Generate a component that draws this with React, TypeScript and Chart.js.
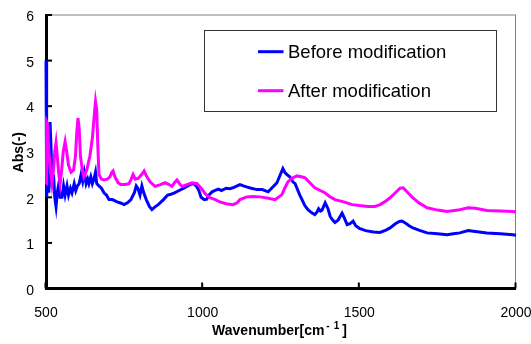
import { useEffect, useRef } from "react";
import { Chart, registerables } from "chart.js";

Chart.register(...registerables);

const beforeX = [500, 501, 503, 506, 509, 513, 517, 520, 524, 528, 532, 536, 541, 545, 551, 556, 561, 567, 572, 578, 583, 590, 595, 600, 606, 612, 617, 622, 628, 633, 637, 643, 648, 653, 658, 662, 669, 677, 685, 693, 701, 712, 727, 740, 749, 760, 771, 782, 788, 793, 800, 806, 812, 820, 830, 838, 846, 860, 875, 888, 896, 910, 925, 940, 952, 960, 970, 980, 988, 995, 1005, 1013, 1020, 1030, 1040, 1050, 1060, 1075, 1087, 1100, 1110, 1119, 1130, 1140, 1155, 1173, 1190, 1209, 1220, 1237, 1248, 1256, 1262, 1269, 1278, 1288, 1295, 1301, 1310, 1317, 1326, 1336, 1348, 1358, 1365, 1370, 1376, 1381, 1391, 1400, 1407, 1415, 1422, 1432, 1445, 1452, 1461, 1470, 1480, 1488, 1500, 1520, 1545, 1566, 1585, 1598, 1615, 1628, 1636, 1648, 1660, 1671, 1690, 1716, 1750, 1780, 1800, 1821, 1847, 1870, 1907, 1950, 1990, 2000];
const beforeY = [5.0, 2.3, 2.0, 2.6, 2.1, 3.65, 2.9, 2.2, 2.5, 2.0, 1.8, 2.1, 2.3, 2.0, 2.0, 2.25, 2.05, 2.25, 2.05, 2.2, 2.1, 2.3, 2.15, 2.25, 2.3, 2.5, 2.35, 2.55, 2.3, 2.4, 2.3, 2.45, 2.3, 2.4, 2.55, 2.3, 2.25, 2.2, 2.1, 2.05, 1.95, 1.95, 1.9, 1.87, 1.84, 1.88, 1.95, 2.1, 2.25, 2.2, 2.05, 2.25, 2.1, 1.95, 1.8, 1.73, 1.78, 1.85, 1.95, 2.05, 2.06, 2.1, 2.15, 2.2, 2.25, 2.28, 2.3, 2.25, 2.15, 2.0, 1.95, 1.96, 2.05, 2.12, 2.15, 2.18, 2.15, 2.2, 2.19, 2.22, 2.25, 2.28, 2.25, 2.23, 2.2, 2.17, 2.17, 2.12, 2.2, 2.32, 2.5, 2.63, 2.55, 2.5, 2.45, 2.34, 2.3, 2.2, 2.05, 1.95, 1.82, 1.73, 1.66, 1.62, 1.68, 1.75, 1.7, 1.72, 1.88, 1.75, 1.58, 1.5, 1.45, 1.5, 1.65, 1.55, 1.4, 1.42, 1.48, 1.38, 1.32, 1.27, 1.24, 1.23, 1.28, 1.33, 1.42, 1.47, 1.48, 1.43, 1.37, 1.33, 1.28, 1.22, 1.2, 1.18, 1.2, 1.22, 1.27, 1.25, 1.22, 1.2, 1.18, 1.17];

const afterX = [500, 502, 505, 509, 514, 519, 524, 528, 532, 536, 541, 545, 550, 555, 561, 566, 572, 580, 588, 594, 598, 602, 606, 610, 616, 621, 630, 640, 648, 654, 658, 662, 665, 669, 677, 685, 695, 704, 710, 714, 720, 730, 739, 752, 765, 772, 778, 785, 795, 805, 813, 822, 832, 848, 865, 880, 893, 902, 910, 918, 926, 934, 950, 966, 982, 995, 1008, 1023, 1040, 1055, 1075, 1097, 1110, 1119, 1141, 1160, 1183, 1210, 1231, 1253, 1262, 1272, 1285, 1301, 1315, 1327, 1342, 1358, 1375, 1390, 1405, 1422, 1450, 1477, 1500, 1528, 1550, 1566, 1585, 1598, 1615, 1630, 1640, 1655, 1671, 1690, 1716, 1750, 1780, 1815, 1847, 1870, 1907, 1950, 1990, 2000];
const afterY = [2.3, 3.65, 3.6, 3.0, 2.6, 2.3, 2.6, 3.0, 3.2, 2.9, 2.5, 2.3, 2.6, 3.0, 3.22, 3.0, 2.7, 2.55, 2.6, 2.9, 3.4, 3.74, 3.5, 2.9, 2.6, 2.45, 2.6, 2.9, 3.3, 3.8, 4.1, 3.9, 3.2, 2.5, 2.4, 2.38, 2.4, 2.45, 2.55, 2.58, 2.45, 2.32, 2.28, 2.28, 2.3, 2.4, 2.5, 2.4, 2.42, 2.5, 2.58, 2.45, 2.34, 2.24, 2.28, 2.32, 2.28, 2.24, 2.32, 2.38, 2.3, 2.24, 2.28, 2.32, 2.3, 2.2, 2.08, 1.99, 1.95, 1.9, 1.86, 1.84, 1.88, 1.95, 2.01, 2.02, 2.01, 1.98, 1.95, 2.06, 2.2, 2.34, 2.42, 2.47, 2.45, 2.43, 2.32, 2.21, 2.15, 2.1, 2.02, 1.95, 1.9, 1.84, 1.82, 1.8, 1.8, 1.84, 1.92, 1.99, 2.1, 2.2, 2.21, 2.1, 1.99, 1.88, 1.77, 1.72, 1.69, 1.72, 1.77, 1.76, 1.71, 1.7, 1.69, 1.68];

const xTicks = [500, 1000, 1500, 2000];
const yTicks = [0, 1, 2, 3, 4, 5, 6];
const seriesNames = ["Before modification", "After modification"];
const seriesColors = ["#0000FF", "#FF00FF"];
const yTitle = "Abs(-)";
const xTitleMain = "Wavenumber[cm";
const xTitleSup = ["-", "1"];
const xTitleEnd = "]";

const FONT = "'Liberation Sans', Arial, sans-serif";

const framePlugin = {
  id: "frame",
  beforeDatasetsDraw(chart: any) {
    const { ctx, chartArea: a, scales } = chart;
    const x = scales.x;
    const y = scales.y;
    ctx.save();
    // top gray border
    ctx.strokeStyle = "#c0c0c0";
    ctx.lineWidth = 2;
    ctx.beginPath();
    ctx.moveTo(a.left, a.top);
    ctx.lineTo(a.right, a.top);
    ctx.stroke();
    // right gray border
    ctx.strokeStyle = "#808080";
    ctx.lineWidth = 1;
    ctx.beginPath();
    ctx.moveTo(a.right - 0.5, a.top);
    ctx.lineTo(a.right - 0.5, a.bottom);
    ctx.stroke();
    // ticks
    ctx.strokeStyle = "#000";
    ctx.lineWidth = 2;
    yTicks.forEach((v) => {
      const py = y.getPixelForValue(v);
      ctx.beginPath();
      ctx.moveTo(a.left, py);
      ctx.lineTo(a.left + 6, py);
      ctx.stroke();
    });
    xTicks.forEach((v) => {
      const px = x.getPixelForValue(v);
      ctx.beginPath();
      ctx.moveTo(px - 0.5, a.bottom);
      ctx.lineTo(px - 0.5, a.bottom - 6);
      ctx.stroke();
    });
    // axes
    ctx.lineWidth = 3;
    ctx.beginPath();
    ctx.moveTo(a.left + 0.5, a.top - 1);
    ctx.lineTo(a.left + 0.5, a.bottom);
    ctx.lineTo(a.right, a.bottom);
    ctx.stroke();

    // tick labels
    ctx.fillStyle = "#000";
    ctx.font = `14px ${FONT}`;
    ctx.textBaseline = "alphabetic";
    ctx.textAlign = "right";
    yTicks.forEach((v) => {
      const py = y.getPixelForValue(v);
      ctx.fillText(String(v), a.left - 12, py + 6.3);
    });
    ctx.textAlign = "center";
    xTicks.forEach((v) => {
      const px = x.getPixelForValue(v);
      ctx.fillText(String(v), px, a.bottom + 28.5);
    });

    // y title
    ctx.save();
    ctx.font = `bold 14px ${FONT}`;
    ctx.translate(23.3, (a.top + a.bottom) / 2 + 0.5);
    ctx.rotate(-Math.PI / 2);
    ctx.textAlign = "center";
    ctx.fillText(yTitle, 0, 0);
    ctx.restore();

    // x title with superscript
    const big = `bold 14px ${FONT}`;
    const small = `bold 10px ${FONT}`;
    ctx.textAlign = "left";
    ctx.font = big;
    const wMain = ctx.measureText(xTitleMain).width;
    const wClose = ctx.measureText(xTitleEnd).width;
    ctx.font = small;
    const wS1 = ctx.measureText(xTitleSup[0]).width;
    const wS2 = ctx.measureText(xTitleSup[1]).width;
    const total = wMain + 2 + wS1 + 4 + wS2 + 3 + wClose;
    let cx = (a.left + a.right) / 2 - 1.5 - total / 2;
    ctx.font = big;
    ctx.fillText(xTitleMain, cx, 335);
    cx += wMain + 2;
    ctx.font = small;
    ctx.fillText(xTitleSup[0], cx, 329);
    cx += wS1 + 4;
    ctx.fillText(xTitleSup[1], cx, 329);
    cx += wS2 + 3;
    ctx.font = big;
    ctx.fillText(xTitleEnd, cx, 335);
    ctx.restore();
  },
  afterDraw(chart: any) {
    const { ctx } = chart;
    ctx.save();
    // legend box
    ctx.strokeStyle = "#333";
    ctx.lineWidth = 1;
    ctx.strokeRect(204.5, 30.5, 292, 81);
    const rows = [58.3, 97.3];
    const lineY = [51.7, 90.7];
    ctx.font = `18.5px ${FONT}`;
    ctx.textAlign = "left";
    ctx.textBaseline = "alphabetic";
    seriesNames.forEach((name, i) => {
      ctx.strokeStyle = seriesColors[i];
      ctx.lineWidth = 3;
      ctx.beginPath();
      ctx.moveTo(258, lineY[i]);
      ctx.lineTo(283.5, lineY[i]);
      ctx.stroke();
      ctx.fillStyle = "#000";
      ctx.fillText(name, 288, rows[i]);
    });
    ctx.restore();
  },
};

export default function App() {
  const ref = useRef<HTMLCanvasElement | null>(null);
  useEffect(() => {
    if (!ref.current) return;
    const mk = (xs: number[], ys: number[]) => xs.map((v, i) => ({ x: v, y: ys[i] }));
    const chart = new Chart(ref.current, {
      type: "line",
      data: {
        datasets: [
          {
            label: seriesNames[1],
            data: mk(afterX, afterY),
            borderColor: seriesColors[1],
            borderWidth: 3,
            pointRadius: 0,
            tension: 0,
            fill: false,
            clip: 6,
          },
          {
            label: seriesNames[0],
            data: mk(beforeX, beforeY),
            borderColor: seriesColors[0],
            borderWidth: 3,
            pointRadius: 0,
            tension: 0,
            fill: false,
            clip: 6,
          },
        ],
      },
      options: {
        responsive: false,
        animation: false,
        devicePixelRatio: 1,
        layout: { padding: { left: 0, right: 15, top: 15, bottom: 0 } },
        plugins: { legend: { display: false }, tooltip: { enabled: false } },
        scales: {
          x: {
            type: "linear",
            min: 500,
            max: 2000,
            afterFit: (s: any) => {
              s.height = 55.5;
            },
            ticks: { display: false },
            grid: { display: false, drawTicks: false },
            border: { display: false },
          },
          y: {
            type: "linear",
            min: 0,
            max: 6,
            afterFit: (s: any) => {
              s.width = 46;
            },
            ticks: { display: false },
            grid: { display: false, drawTicks: false },
            border: { display: false },
          },
        },
      },
      plugins: [framePlugin],
    });
    return () => chart.destroy();
  }, []);
  return (
    <div style={{ position: "absolute", left: 0, top: 0, width: 531, height: 344, background: "#fff" }}>
      <canvas ref={ref} width={531} height={344} style={{ width: 531, height: 344, display: "block" }} />
    </div>
  );
}
